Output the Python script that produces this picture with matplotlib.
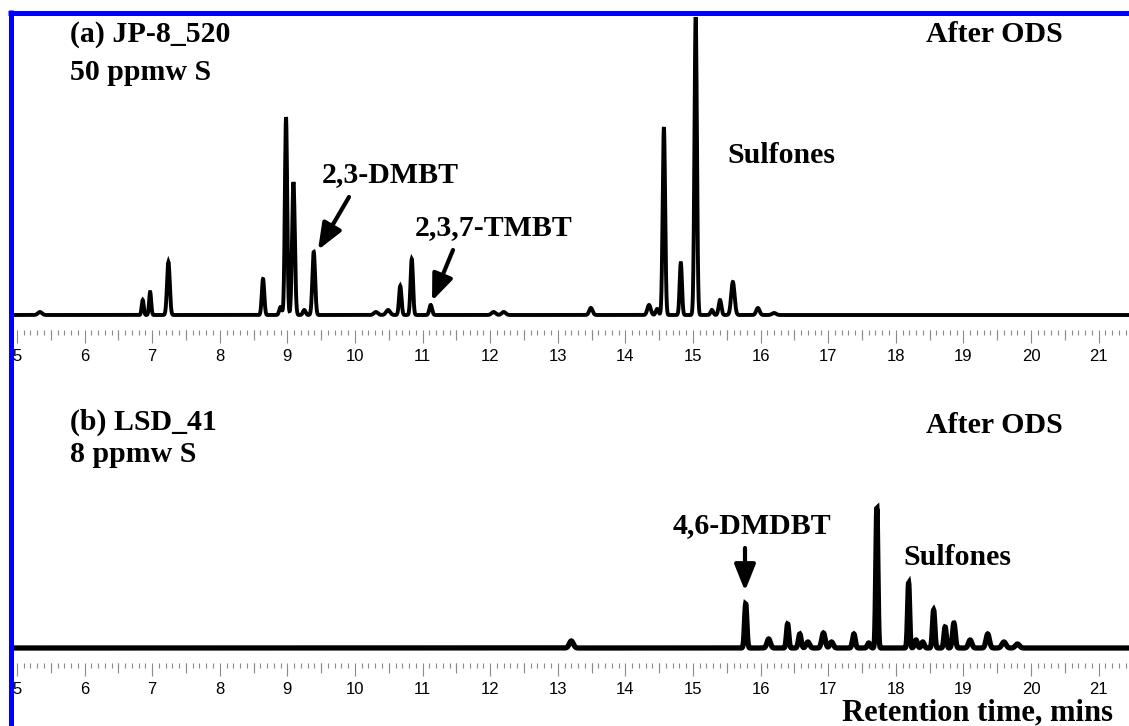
import numpy as np
import matplotlib
matplotlib.use("Agg")
import matplotlib.pyplot as plt
import matplotlib.patches as mpatches
from matplotlib.lines import Line2D
from matplotlib.ticker import MultipleLocator, FixedLocator, NullFormatter

# ---------------- data (retention time [min], peak height [a.u.], peak width sigma [min]) ----------------
rt_a = [5.34, 6.86, 6.97, 7.24, 8.64, 8.90, 8.98, 9.09, 9.25, 9.39, 10.31, 10.49, 10.67, 10.84,
        11.12, 12.05, 12.20, 13.49, 14.35, 14.47, 14.57, 14.82, 15.04, 15.28, 15.40, 15.59, 15.96, 16.20]
h_a = [3, 15, 23, 53, 36, 8, 198, 133, 5, 63, 3, 5, 29, 56,
       10, 3, 3, 7, 10, 6, 188, 52, 298, 5, 15, 33, 7, 2]
w_a = [0.03, 0.015, 0.015, 0.02, 0.018, 0.02, 0.017, 0.02, 0.02, 0.02, 0.03, 0.03, 0.018, 0.018,
       0.02, 0.03, 0.03, 0.025, 0.025, 0.02, 0.018, 0.017, 0.018, 0.02, 0.02, 0.025, 0.025, 0.03]

rt_b = [13.20, 15.78, 16.12, 16.40, 16.58, 16.70, 16.93, 17.05, 17.38, 17.60, 17.72, 18.19, 18.30,
        18.40, 18.56, 18.73, 18.86, 19.10, 19.36, 19.60, 19.80]
h_b = [7, 44, 9, 24, 14, 6, 15, 6, 14, 5, 140, 65, 8,
       6, 38, 21, 25, 8, 14, 6, 4]
w_b = [0.03, 0.017, 0.025, 0.017, 0.02, 0.025, 0.025, 0.025, 0.02, 0.02, 0.015, 0.015, 0.02,
       0.02, 0.017, 0.017, 0.02, 0.025, 0.025, 0.03, 0.03]

x_ticks = list(range(5, 22))

# ---------------- figure ----------------
W, H = 1129, 726
fig = plt.figure(figsize=(W / 100, H / 100), dpi=100)


def fx(px):
    return px / W


def fy(py):
    return 1 - py / H


t = np.linspace(4.9, 21.6, 8000)


def trace(rts, hs, ws):
    y = np.zeros_like(t)
    for r, h, w in zip(rts, hs, ws):
        y += h * np.exp(-0.5 * ((t - r) / w) ** 2)
    return y


grey = "#8a8a8a"
serif_bold = dict(family="Liberation Serif", fontweight="bold", fontsize=21.5, color="black")


def style_axis(ax):
    for s in ax.spines.values():
        s.set_visible(False)
    ax.set_yticks([])
    ax.xaxis.set_major_locator(FixedLocator(x_ticks))
    ax.xaxis.set_minor_locator(MultipleLocator(0.1))
    ax.tick_params(axis="x", which="major", length=9.5, width=0.8, color=grey, pad=4,
                   labelsize=12, labelfontfamily="Liberation Sans")
    ax.tick_params(axis="x", which="minor", length=3.5, width=0.8, color=grey)
    sec = ax.secondary_xaxis("bottom")
    sec.xaxis.set_major_locator(FixedLocator(np.arange(5.5, 21.6, 1.0)))
    sec.xaxis.set_major_formatter(NullFormatter())
    sec.tick_params(axis="x", which="major", length=7, width=0.8, color=grey)
    sec.xaxis.set_minor_locator(FixedLocator([]))
    for s in sec.spines.values():
        s.set_visible(False)


xlim = (4.956, 21.45)

# panel (a)
ax_a = fig.add_axes([fx(14), fy(330), fx(1129) - fx(14), (330 - 14) / H])
ax_a.plot(t, trace(rt_a, h_a, w_a), color="black", lw=2.8, solid_joinstyle="miter")
ax_a.set_xlim(*xlim)
ax_a.set_ylim(-15, 301)
style_axis(ax_a)

# panel (b)
ax_b = fig.add_axes([fx(14), fy(663), fx(1129) - fx(14), (663 - 380) / H])
ax_b.plot(t, trace(rt_b, h_b, w_b), color="black", lw=3.8, solid_joinstyle="miter")
ax_b.set_xlim(*xlim)
ax_b.set_ylim(-15, 268)
style_axis(ax_b)

# ---------------- texts ----------------
fig.text(fx(70), fy(42), "(a) JP-8_520", ha="left", va="baseline", **serif_bold)
fig.text(fx(70), fy(80), "50 ppmw S", ha="left", va="baseline", **serif_bold)
fig.text(fx(1063), fy(42), "After ODS", ha="right", va="baseline", **serif_bold)
fig.text(fx(322), fy(182), "2,3-DMBT", ha="left", va="baseline", **serif_bold)
fig.text(fx(415), fy(235), "2,3,7-TMBT", ha="left", va="baseline", **serif_bold)
fig.text(fx(727), fy(163), "Sulfones", ha="left", va="baseline", **serif_bold)

fig.text(fx(70), fy(430), "(b) LSD_41", ha="left", va="baseline", **serif_bold)
fig.text(fx(70), fy(462), "8 ppmw S", ha="left", va="baseline", **serif_bold)
fig.text(fx(1063), fy(433), "After ODS", ha="right", va="baseline", **serif_bold)
fig.text(fx(673), fy(533), "4,6-DMDBT", ha="left", va="baseline", **serif_bold)
fig.text(fx(903), fy(565), "Sulfones", ha="left", va="baseline", **serif_bold)

fig.text(fx(1113), fy(720), "Retention time, mins", ha="right", va="baseline",
         family="Liberation Serif", fontweight="bold", fontsize=22, color="black")

# ---------------- arrows ----------------
arrow_kw = dict(arrowstyle="-|>,head_length=0.8,head_width=0.32", lw=3, color="black",
                shrinkA=0, shrinkB=0, mutation_scale=20)
for (x0, y0), (x1, y1) in [((349, 197), (318, 250)),
                           ((453, 250), (432, 301)),
                           ((745, 548), (745, 591))]:
    fig.add_artist(mpatches.FancyArrowPatch(
        (fx(x0), fy(y0)), (fx(x1), fy(y1)), transform=fig.transFigure, **arrow_kw))

# ---------------- blue frame (top and left) ----------------
fig.add_artist(Line2D([fx(8), 1.0], [fy(12.5), fy(12.5)], color="#0000ff", lw=3.6,
                      transform=fig.transFigure, solid_capstyle="butt"))
fig.add_artist(Line2D([fx(10.8), fx(10.8)], [0.0, fy(10)], color="#0000ff", lw=3.6,
                      transform=fig.transFigure, solid_capstyle="butt"))

fig.savefig("out.png", dpi=100)
